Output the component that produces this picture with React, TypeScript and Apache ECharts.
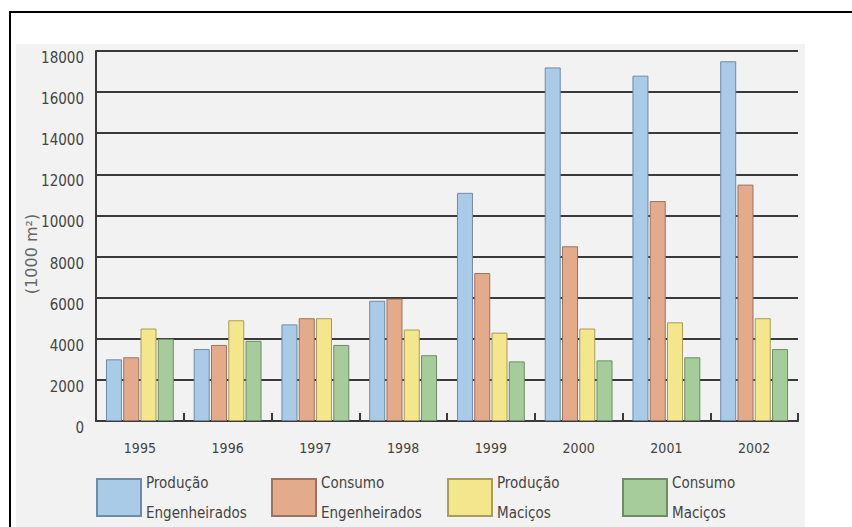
import React, { useEffect, useRef } from "react";
import * as echarts from "echarts";

// Anos da série
const years = ["1995", "1996", "1997", "1998", "1999", "2000", "2001", "2002"];

// Valores em 1000 m²
const producaoEngenheirados = [3000, 3500, 4700, 5850, 11100, 17200, 16800, 17500];
const consumoEngenheirados = [3100, 3700, 5000, 5950, 7200, 8500, 10700, 11500];
const producaoMacicos = [4500, 4900, 5000, 4450, 4300, 4500, 4800, 5000];
const consumoMacicos = [4000, 3900, 3700, 3200, 2900, 2950, 3100, 3500];

const seriesNames = [
  "Produção\nEngenheirados",
  "Consumo\nEngenheirados",
  "Produção\nMaciços",
  "Consumo\nMaciços",
];

const yTicks = { min: 0, max: 18000, interval: 2000 };
const axisName = "(1000 m²)";

const FONT = '"DejaVu Sans Condensed", "Liberation Sans Narrow", "Liberation Sans", sans-serif';

const fills = ["#a9cbe7", "#e3aa8c", "#f3e68c", "#a6cc9c"];
const borders = ["#6f8aa3", "#9a7462", "#a89d5c", "#6f8c66"];
const legendLeft = [96, 271, 447, 622];

export default function App() {
  const ref = useRef<HTMLDivElement>(null);

  useEffect(() => {
    if (!ref.current) return;
    const chart = echarts.init(ref.current, undefined, { renderer: "svg" });
    const values = [producaoEngenheirados, consumoEngenheirados, producaoMacicos, consumoMacicos];

    chart.setOption({
      animation: false,
      backgroundColor: "#ffffff",
      graphic: [
        {
          type: "rect",
          z: -10,
          shape: { x: 16, y: 44, width: 789, height: 483 },
          style: { fill: "#f2f2f2" },
          silent: true,
        },
        {
          type: "polyline",
          shape: { points: [[10, 527], [10, 12], [852, 12]] },
          style: { stroke: "#000000", lineWidth: 2, fill: "none" },
          silent: true,
        },
        {
          type: "text",
          x: 31,
          y: 254,
          rotation: Math.PI / 2,
          style: {
            text: axisName,
            font: '16px "DejaVu Sans", sans-serif',
            fill: "#666666",
            align: "center",
            verticalAlign: "middle",
          },
          silent: true,
        },
      ],
      grid: { left: 96, right: 54, top: 51, bottom: 106 },
      legend: seriesNames.map((name, i) => ({
        data: [name],
        left: legendLeft[i],
        top: 467.5,
        padding: 0,
        itemWidth: 44,
        itemHeight: 37,
        itemGap: 0,
        selectedMode: false,
        icon: "rect",
        textStyle: {
          fontFamily: FONT,
          fontSize: 15,
          lineHeight: 30,
          color: "#444444",
        },
      })),
      xAxis: {
        type: "category",
        data: years,
        axisLine: { show: true, lineStyle: { color: "#3a3a3a", width: 2 } },
        axisTick: { show: true, inside: true, length: 8, lineStyle: { color: "#3a3a3a", width: 2 } },
        axisLabel: { fontFamily: FONT, fontSize: 14, color: "#444444", margin: 20 },
        splitLine: { show: false },
      },
      yAxis: {
        type: "value",
        min: yTicks.min,
        max: yTicks.max,
        interval: yTicks.interval,
        axisLine: { show: true, lineStyle: { color: "#3a3a3a", width: 2 } },
        axisTick: { show: false },
        axisLabel: {
          fontFamily: FONT,
          fontSize: 15,
          color: "#444444",
          margin: 12,
          verticalAlign: "top",
          lineHeight: 14,
          formatter: (v: number) => String(v),
        },
        splitLine: { show: true, lineStyle: { color: "#3a3a3a", width: 2 } },
      },
      series: seriesNames.map((name, i) => ({
        type: "bar",
        name,
        data: values[i],
        barWidth: 16,
        barGap: "8%",
        itemStyle: { color: fills[i], borderColor: borders[i], borderWidth: 1 },
      })),
    });

    return () => chart.dispose();
  }, []);

  return (
    <div
      ref={ref}
      style={{ position: "fixed", left: 0, top: 0, width: 852, height: 527 }}
    />
  );
}
